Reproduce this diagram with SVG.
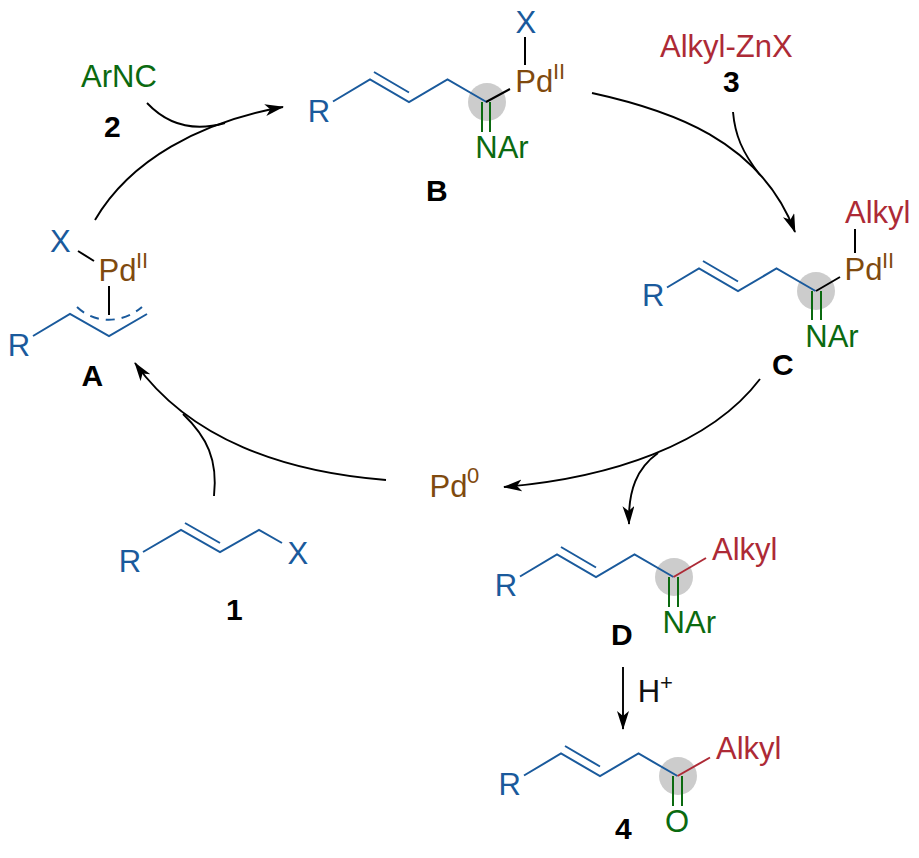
<svg xmlns="http://www.w3.org/2000/svg" xmlns:xlink="http://www.w3.org/1999/xlink" width="919" height="858" viewBox="0 0 919 858">
<style>
text{font-family:"Liberation Sans",Arial,sans-serif;font-size:31px}
text.lab{font-weight:bold;fill:#000;font-size:30px}
.b{fill:#1a5a9c}.br{fill:#7f4a0e}.g{fill:#0b6a10}.r{fill:#ad2a36}.k{fill:#111}
text.sup{font-size:22px}
.lb,.lg,.lr,.lk,.arc{fill:none;stroke-width:2}
.lb{stroke:#1a5a9c}.lg{stroke:#0b6a10}.lr{stroke:#ad2a36}.lk{stroke:#000}
.arc{stroke:#000;stroke-width:1.9}
.spot{fill:#ccc}
</style>
<defs>
<marker id="ah" markerUnits="userSpaceOnUse" markerWidth="20" markerHeight="14" refX="18" refY="6" orient="auto"><path d="M0 0L19 6L0 12L5 6Z" fill="#000"/></marker>
<g id="chain">
<circle class="spot" cx="487" cy="102" r="19"/>
<path class="lb" d="M333 101.500L370 79.500L409 102L447.500 79.500L486.500 102M374 72L409 92.500"/>
</g>
<g id="chainC">
<circle class="spot" cx="487" cy="102" r="19"/>
<path class="lb" d="M338 98.500L370 79.500L409 102L447.500 79.500L486.500 102M374 72L409 92.500"/>
</g>
</defs>
<g id="connectors">
<path class="arc" marker-end="url(#ah)" d="M95 220C130 160 200 122 283 107"/>
<path class="arc" d="M147 103C165 122 190 133 225 123"/>
<path class="arc" marker-end="url(#ah)" d="M592 93C670 110 760 140 795 232"/>
<path class="arc" d="M733 112C735 135 742 152 760 175"/>
<path class="arc" marker-end="url(#ah)" d="M760 379C710 445 610 478 504 487"/>
<path class="arc" marker-end="url(#ah)" d="M658 453C637 468 628 490 629 524"/>
<path class="arc" marker-end="url(#ah)" d="M386 480C285 472 190 440 135 363"/>
<path class="arc" d="M214 496C218 460 207 437 183 414"/>
<path class="arc" marker-end="url(#ah)" d="M623 667V729"/>
</g>
<g id="A">
<path class="lb" d="M33 336L70 314L109 336L147 314"/>
<path class="lb" stroke-dasharray="9 7" d="M77 307C95 324 122 324 142 307"/>
<path class="lk" d="M78 251L94 261M109 286V315"/>
<text class="b" x="7.800" y="356">R</text>
<text class="b" x="50" y="252">X</text>
<text class="br" x="98.600" y="280.500">Pd</text>
<text class="br sup" x="136" y="268">II</text>
<text class="lab" x="81.500" y="385.500">A</text>
</g>
<g id="B">
<use xlink:href="#chain" href="#chain"/>
<path class="lk" d="M486 102L510 89M525 37V65"/>
<path class="lg" d="M482 102V132M490 102V132"/>
<text class="b" x="307.800" y="122">R</text>
<text class="b" x="515.500" y="33">X</text>
<text class="br" x="515.300" y="91.500">Pd</text>
<text class="br sup" x="553" y="78.500">II</text>
<text class="g" x="475.300" y="158">NAr</text>
<text class="lab" x="426" y="201">B</text>
</g>
<g id="C">
<use xlink:href="#chainC" href="#chainC" transform="translate(329 189)"/>
<path class="lk" d="M816 291L840 277M855 229V253"/>
<path class="lg" d="M812 291V320M821 291V320"/>
<text class="b" x="642" y="306">R</text>
<text class="r" x="845" y="223">Alkyl</text>
<text class="br" x="844.600" y="279.500">Pd</text>
<text class="br sup" x="882" y="267.500">II</text>
<text class="g" x="805.300" y="347">NAr</text>
<text class="lab" x="772" y="375">C</text>
</g>
<g id="D">
<use xlink:href="#chain" href="#chain" transform="translate(187 475)"/>
<path class="lr" d="M673.500 577L706 558"/>
<path class="lg" d="M669 577V607M678 577V607"/>
<text class="b" x="494.800" y="596">R</text>
<text class="r" x="712" y="560">Alkyl</text>
<text class="g" x="662.600" y="633">NAr</text>
<text class="lab" x="611" y="645">D</text>
</g>
<g id="P4">
<use xlink:href="#chain" href="#chain" transform="translate(191 674)"/>
<path class="lr" d="M677.500 776L710 757.500"/>
<path class="lg" d="M673 776V806M682 776V806"/>
<text class="b" x="498.600" y="795">R</text>
<text class="r" x="716" y="759">Alkyl</text>
<text class="g" x="665" y="831.500">O</text>
<text class="lab" x="615" y="838.500">4</text>
</g>
<g id="Pd0"><text class="br" x="429.600" y="496.500">Pd</text><text class="br sup" x="467" y="483">0</text></g>
<g id="reagent2"><text class="g" x="81" y="87">ArNC</text><text class="lab" x="104" y="137">2</text></g>
<g id="reagent3"><text class="r" x="660" y="57">Alkyl-ZnX</text><text class="lab" x="723" y="92">3</text></g>
<g id="reagent1">
<path class="lb" d="M143 552L181 530L220 552L259 530L282 543M185 523L220 543"/>
<text class="b" x="118.800" y="572">R</text>
<text class="b" x="287.500" y="564">X</text>
<text class="lab" x="226" y="620">1</text>
</g>
<g id="Hplus"><text class="k" x="637.800" y="702">H</text><text class="k sup" x="660" y="690">+</text></g>
</svg>
